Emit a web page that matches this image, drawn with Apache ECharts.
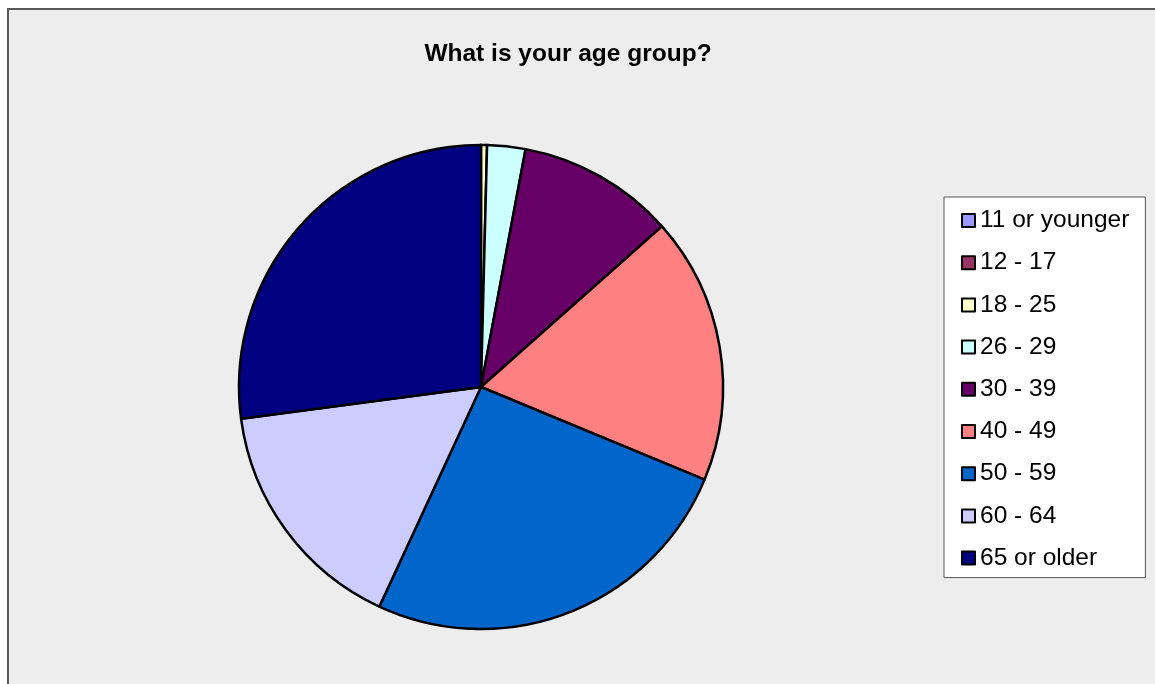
<!DOCTYPE html>
<html>
<head>
<meta charset="utf-8">
<script src="https://cdn.jsdelivr.net/npm/echarts@6/dist/echarts.min.js"></script>
<style>
html,body{margin:0;padding:0;background:#fff;}
#chart{width:1155px;height:684px;}
</style>
</head>
<body>
<div id="chart"></div>
<script>
const titleText = 'What is your age group?';
const categories = ['11 or younger','12 - 17','18 - 25','26 - 29','30 - 39','40 - 49','50 - 59','60 - 64','65 or older'];
const values = [0, 0, 0.4, 2.55, 10.5, 17.8, 25.65, 16.0, 27.1];
const colors = ['#9999FF','#993366','#FFFFCC','#CCFFFF','#660066','#FF8080','#0066CC','#CCCCFF','#000080'];

const chart = echarts.init(document.getElementById('chart'), null, {renderer:'canvas'});
chart.setOption({
  animation: false,
  backgroundColor: '#ffffff',
  graphic: [{
    type: 'rect', z: -10, silent: true,
    shape: {x: 8, y: 9, width: 1300, height: 900},
    style: {fill: '#EDEDED', stroke: '#5a5a5a', lineWidth: 2}
  }],
  title: {
    text: titleText,
    left: 563, top: 37,
    textAlign: 'center',
    textStyle: {fontFamily: 'Liberation Sans', fontSize: 24.5, fontWeight: 'bold', color: '#000'}
  },
  legend: {
    orient: 'vertical',
    left: 944, top: 197,
    padding: [11, 16, 7, 17],
    backgroundColor: '#ffffff',
    borderColor: '#555555',
    borderWidth: 1,
    borderRadius: 0,
    itemWidth: 13, itemHeight: 13,
    itemGap: 17.2,
    icon: 'rect',
    itemStyle: {borderColor: '#000', borderWidth: 2},
    textStyle: {fontFamily: 'Liberation Sans', fontSize: 24.5, lineHeight: 24, color: '#000', padding: [0,0,0,0]},
    data: categories
  },
  series: [{
    type: 'pie',
    center: [481, 387],
    radius: 242,
    startAngle: 90,
    clockwise: true,
    label: {show: false},
    labelLine: {show: false},
    emphasis: {disabled: true},
    itemStyle: {borderColor: '#000', borderWidth: 2.5},
    data: categories.map((c, i) => ({name: c, value: values[i], itemStyle: {color: colors[i]}}))
  }]
});
</script>
</body>
</html>
